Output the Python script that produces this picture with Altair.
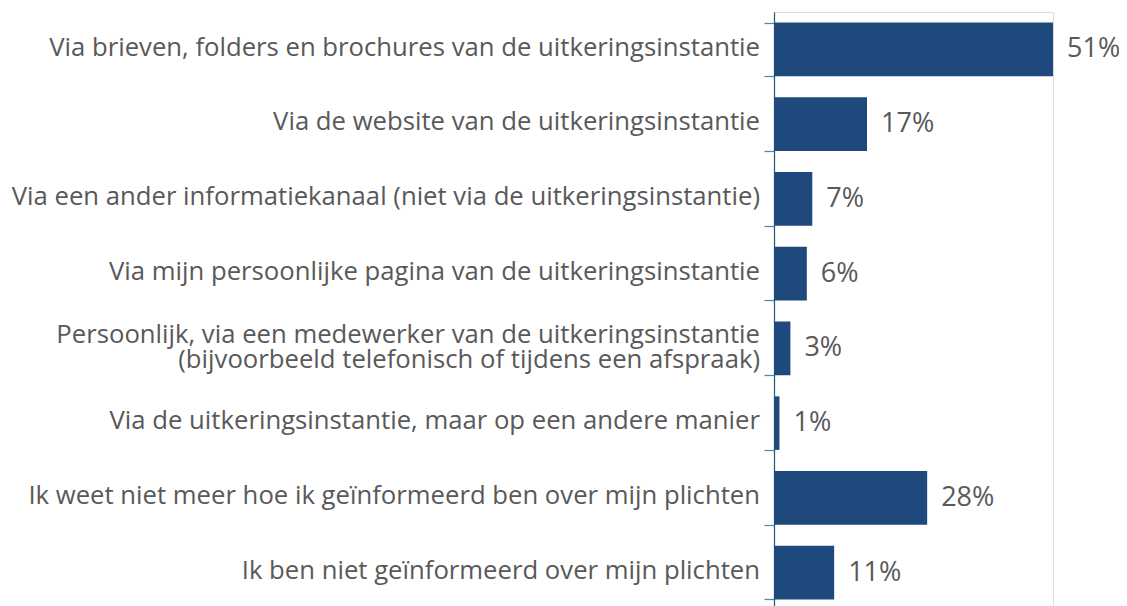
import altair as alt
import pandas as pd

categories = [
    "Via brieven, folders en brochures van de uitkeringsinstantie",
    "Via de website van de uitkeringsinstantie",
    "Via een ander informatiekanaal (niet via de uitkeringsinstantie)",
    "Via mijn persoonlijke pagina van de uitkeringsinstantie",
    "Persoonlijk, via een medewerker van de uitkeringsinstantie|(bijvoorbeeld telefonisch of tijdens een afspraak)",
    "Via de uitkeringsinstantie, maar op een andere manier",
    "Ik weet niet meer hoe ik geïnformeerd ben over mijn plichten",
    "Ik ben niet geïnformeerd over mijn plichten",
]
values = [51, 17, 7, 6, 3, 1, 28, 11]
value_labels = ["51%", "17%", "7%", "6%", "3%", "1%", "28%", "11%"]

df = pd.DataFrame({"cat": categories, "value": values, "label": value_labels})

y = alt.Y(
    "cat:N",
    sort=categories,
    scale=alt.Scale(paddingInner=0.284, paddingOuter=0.142),
    axis=alt.Axis(
        title=None,
        labels=False,
        tickSize=10,
        tickColor="#4F8AA6",
        tickWidth=1.25,
        domainColor="#1F5F7A",
        domainWidth=1.25,
        tickBand="extent",
    ),
)
x = alt.X("value:Q", scale=alt.Scale(domain=[0, 51], nice=False, zero=True), axis=None)

base = alt.Chart(df)

bars = base.mark_bar(color="#1F497D").encode(x=x, y=y)

value_text = base.mark_text(
    align="left", baseline="middle", dx=14, font="Open Sans", fontSize=27, color="#595959"
).encode(x=x, y=y, text="label:N")

cat_text = (
    base.transform_calculate(
        shift="indexof(datum.cat, '|') >= 0 ? 13 : 25"
    )
    .mark_text(
        align="right",
        baseline="middle",
        lineBreak="|",
        lineHeight=25,
        font="Open Sans",
        fontSize=25.7,
        color="#595959",
    )
    .encode(
        x=alt.value(-14),
        y=y,
        yOffset=alt.YOffset("shift:Q", scale=None),
        text="cat:N",
    )
)

chart = (
    alt.layer(bars, value_text, cat_text)
    .properties(
        width=279,
        height=598,
        padding={"left": 766, "top": 4, "right": 66, "bottom": 0},
        autosize=alt.AutoSizeParams(type="none"),
    )
    .configure_view(stroke=None)
    .configure(background="white")
)

chart.save("out.html", embed_options={"renderer": "svg", "actions": False})
